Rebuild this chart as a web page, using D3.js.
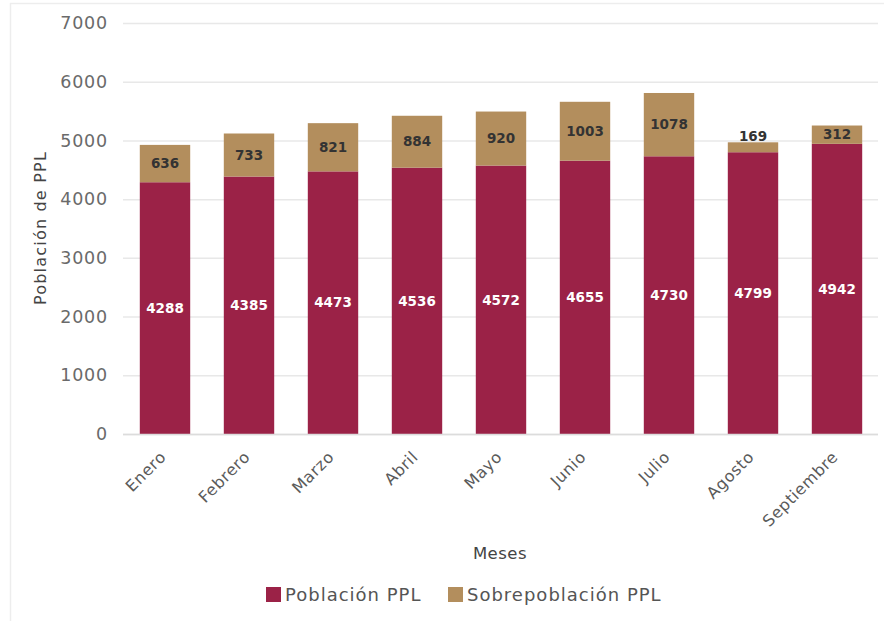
<!DOCTYPE html>
<html>
<head>
<meta charset="utf-8">
<script src="https://cdn.jsdelivr.net/npm/d3@7"></script>
<style>
  body { margin: 0; background: #fff; }
  svg { display: block; }
  text { font-family: "DejaVu Sans", "Noto Sans", sans-serif; }
</style>
</head>
<body>
<svg id="chart" width="884" height="621"></svg>
<script>
const months = ["Enero", "Febrero", "Marzo", "Abril", "Mayo", "Junio", "Julio", "Agosto", "Septiembre"];
const poblacion = [4288, 4385, 4473, 4536, 4572, 4655, 4730, 4799, 4942];
const sobrepoblacion = [636, 733, 821, 884, 920, 1003, 1078, 169, 312];
const yTicks = [0, 1000, 2000, 3000, 4000, 5000, 6000, 7000];
const seriesNames = ["Población PPL", "Sobrepoblación PPL"];
const colors = ["#9b2247", "#b38e5d"];

const FONT = "DejaVu Sans, Noto Sans, sans-serif";
const svg = d3.select("#chart");
const W = 884, H = 621;

// faint frame
svg.append("line").attr("x1", 10.5).attr("x2", 10.5).attr("y1", 3).attr("y2", H)
  .attr("stroke", "#ededed").attr("stroke-width", 1.5);
svg.append("line").attr("x1", 10).attr("x2", W).attr("y1", 3.5).attr("y2", 3.5)
  .attr("stroke", "#ededed").attr("stroke-width", 1.5);

const x = d3.scaleBand().domain(months).range([123, 879]).paddingInner(0.4).paddingOuter(0.2);
const y = d3.scaleLinear().domain([0, 7000]).range([434, 23]);

// gridlines + y tick labels
const yAxis = d3.axisLeft(y).tickValues(yTicks).tickSize(-(878 - 123)).tickPadding(15).tickFormat(d3.format("d"));
const gy = svg.append("g").attr("transform", "translate(123,0)").call(yAxis);
gy.select(".domain").remove();
gy.selectAll(".tick line").attr("stroke", "#e8e8e8").attr("stroke-width", 1.5);
gy.selectAll(".tick text").attr("fill", "#6a6a6a").attr("font-size", 17.5)
  .attr("letter-spacing", 0.8).attr("font-family", FONT);

// stacked bars
const data = months.map((mth, i) => ({ month: mth, a: poblacion[i], b: sobrepoblacion[i] }));
const stack = d3.stack().keys(["a", "b"])(data);

stack.forEach((layer, li) => {
  svg.append("g").selectAll("rect").data(layer).join("rect")
    .attr("x", d => x(d.data.month))
    .attr("width", x.bandwidth())
    .attr("y", d => y(d[1]))
    .attr("height", d => y(d[0]) - y(d[1]))
    .attr("fill", colors[li]);
});

// baseline
svg.append("line").attr("x1", 123).attr("x2", 878).attr("y1", 434.5).attr("y2", 434.5)
  .attr("stroke", "#dcdcdc").attr("stroke-width", 1.5);

// labels for Población
svg.append("g").selectAll("text").data(stack[0]).join("text")
  .attr("x", d => x(d.data.month) + x.bandwidth() / 2)
  .attr("y", d => (y(d[0]) + y(d[1])) / 2)
  .attr("dy", "0.35em")
  .attr("text-anchor", "middle")
  .attr("fill", "#fff")
  .attr("font-weight", "bold")
  .attr("font-size", 13.5)
  .attr("font-family", FONT)
  .text(d => d.data.a);

// labels for Sobrepoblación
svg.append("g").selectAll("text").data(stack[1]).join("text")
  .attr("x", d => x(d.data.month) + x.bandwidth() / 2)
  .attr("y", d => {
    const h = y(d[0]) - y(d[1]);
    return h < 14 ? y(d[1]) - 6 : (y(d[0]) + y(d[1])) / 2;
  })
  .attr("dy", "0.35em")
  .attr("text-anchor", "middle")
  .attr("fill", "#333")
  .attr("font-weight", "bold")
  .attr("font-size", 13.5)
  .attr("font-family", FONT)
  .text(d => d.data.b);

// x axis labels
const xAxis = d3.axisBottom(x).tickSize(0).tickPadding(0);
const gx = svg.append("g").attr("transform", "translate(0,434)").call(xAxis);
gx.select(".domain").remove();
gx.selectAll(".tick text")
  .attr("fill", "#5a5a5a")
  .attr("font-size", 16)
  .attr("letter-spacing", 0.6)
  .attr("font-family", FONT)
  .attr("text-anchor", "end")
  .attr("dy", 0)
  .attr("transform", "translate(2,24) rotate(-45)");

// axis titles
svg.append("text")
  .attr("transform", "translate(46,228) rotate(-90)")
  .attr("text-anchor", "middle")
  .attr("fill", "#444")
  .attr("font-size", 16)
  .attr("letter-spacing", 1.2)
  .attr("font-family", FONT)
  .text("Población de PPL");

svg.append("text")
  .attr("x", 500).attr("y", 553)
  .attr("dy", "0.35em")
  .attr("text-anchor", "middle")
  .attr("fill", "#444")
  .attr("font-size", 16.5)
  .attr("letter-spacing", 0.5)
  .attr("font-family", FONT)
  .text("Meses");

// legend
const legendX = [266, 448];
seriesNames.forEach((name, i) => {
  const g = svg.append("g").attr("transform", `translate(${legendX[i]},587)`);
  g.append("rect").attr("width", 15).attr("height", 15).attr("fill", colors[i]);
  g.append("text").attr("x", 19).attr("y", 7.5).attr("dy", "0.35em")
    .attr("fill", "#555").attr("font-size", 18).attr("letter-spacing", 1)
    .attr("font-family", FONT).text(name);
});
</script>
</body>
</html>
